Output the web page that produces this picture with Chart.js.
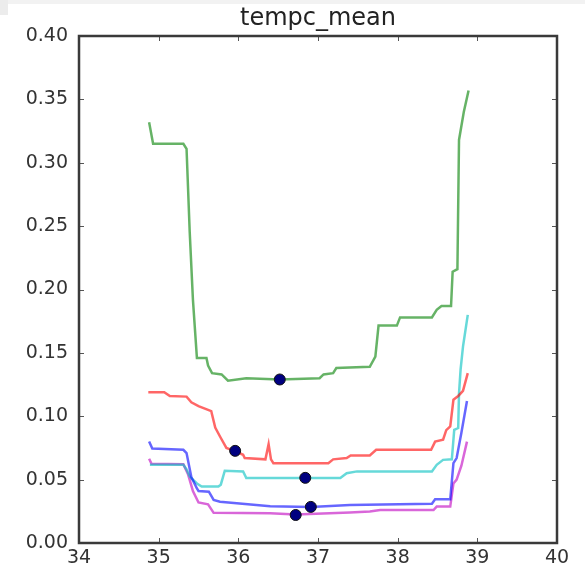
<!DOCTYPE html>
<html>
<head>
<meta charset="utf-8">
<title>tempc_mean</title>
<script src="https://cdn.jsdelivr.net/npm/chart.js@4/dist/chart.umd.min.js"></script>
<style>
  body { margin: 0; background: #fff; }
  #wrap { position: relative; width: 585px; height: 573px; }
  #strip { position: absolute; left: 0; top: 0; width: 585px; height: 4px; background: #f2f2f2; }
  #corner { position: absolute; left: 0; top: 0; width: 8px; height: 15px; background: #ececec; }
  canvas { position: absolute; left: 0; top: 0; }
</style>
</head>
<body>
<div id="wrap">
  <div id="strip"></div>
  <div id="corner"></div>
  <canvas id="chart" width="585" height="573"></canvas>
</div>
<script>
const title = 'tempc_mean';
const xTicks = [34, 35, 36, 37, 38, 39, 40];
const yTicks = [0, 0.05, 0.10, 0.15, 0.20, 0.25, 0.30, 0.35, 0.40];

// blue
const blueX = [34.88, 34.92, 35.31, 35.35, 35.41, 35.48, 35.50, 35.63, 35.69, 35.77, 36.40, 36.91, 37.40, 38.43, 38.47, 38.66, 38.70, 38.74, 38.80, 38.87];
const blueY = [0.080, 0.0745, 0.0735, 0.071, 0.052, 0.043, 0.041, 0.0405, 0.034, 0.0326, 0.029, 0.0285, 0.030, 0.031, 0.0345, 0.0345, 0.063, 0.067, 0.087, 0.112];

// green
const greenX = [34.88, 34.93, 35.31, 35.35, 35.39, 35.43, 35.48, 35.60, 35.62, 35.67, 35.79, 35.87, 36.10, 36.52, 37.02, 37.07, 37.19, 37.23, 37.65, 37.72, 37.76, 37.99, 38.03, 38.43, 38.49, 38.55, 38.67, 38.69, 38.75, 38.77, 38.83, 38.89];
const greenY = [0.332, 0.315, 0.315, 0.311, 0.245, 0.192, 0.146, 0.146, 0.140, 0.134, 0.133, 0.128, 0.130, 0.129, 0.130, 0.133, 0.134, 0.138, 0.139, 0.147, 0.1715, 0.1715, 0.178, 0.178, 0.184, 0.187, 0.187, 0.214, 0.216, 0.318, 0.340, 0.357];

// red
const redX = [34.87, 35.07, 35.14, 35.35, 35.41, 35.50, 35.62, 35.66, 35.71, 35.77, 35.85, 35.96, 36.06, 36.08, 36.34, 36.38, 36.41, 36.44, 37.13, 37.19, 37.36, 37.41, 37.65, 37.73, 38.42, 38.47, 38.57, 38.61, 38.66, 38.70, 38.76, 38.82, 38.88];
const redY = [0.119, 0.119, 0.116, 0.1155, 0.111, 0.108, 0.105, 0.104, 0.091, 0.084, 0.075, 0.0725, 0.0696, 0.067, 0.066, 0.078, 0.066, 0.063, 0.063, 0.066, 0.067, 0.069, 0.069, 0.0735, 0.0735, 0.080, 0.0815, 0.089, 0.092, 0.113, 0.116, 0.120, 0.134];

// cyan
const cyanX = [34.89, 35.31, 35.35, 35.39, 35.48, 35.54, 35.75, 35.78, 35.83, 36.06, 36.10, 37.28, 37.36, 37.49, 38.43, 38.49, 38.57, 38.68, 38.71, 38.76, 38.77, 38.79, 38.82, 38.88];
const cyanY = [0.0617, 0.0617, 0.058, 0.0524, 0.047, 0.0445, 0.0445, 0.046, 0.057, 0.0565, 0.0512, 0.0512, 0.055, 0.0565, 0.0565, 0.0617, 0.0656, 0.066, 0.0893, 0.0907, 0.118, 0.137, 0.155, 0.180];

// magenta
const magentaX = [34.88, 34.91, 35.31, 35.37, 35.43, 35.50, 35.62, 35.69, 36.40, 36.72, 37.40, 37.65, 37.78, 38.45, 38.49, 38.66, 38.70, 38.74, 38.80, 38.87];
const magentaY = [0.0665, 0.0625, 0.0622, 0.054, 0.041, 0.032, 0.0305, 0.0238, 0.0235, 0.0225, 0.024, 0.0248, 0.026, 0.026, 0.0287, 0.0287, 0.047, 0.050, 0.061, 0.080];

// marked points, one per curve
const dotX = [36.52, 35.96, 36.84, 36.91, 36.72];
const dotY = [0.129, 0.0727, 0.0514, 0.0285, 0.0221];

function pts(xs, ys) {
  return xs.map((x, i) => ({ x: x, y: ys[i] }));
}

function curve(xs, ys, color) {
  return {
    data: pts(xs, ys),
    borderColor: color,
    borderWidth: 2.5,
    pointRadius: 0,
    tension: 0,
    fill: false
  };
}

// inward ticks on all four sides plus the box frame
const frame = {
  id: 'frame',
  afterDraw(chart) {
    const { ctx, chartArea: a, scales: { x, y } } = chart;
    ctx.save();
    ctx.strokeStyle = '#555';
    ctx.lineWidth = 1;
    ctx.beginPath();
    xTicks.forEach(v => {
      const px = Math.round(x.getPixelForValue(v)) + 0.5;
      ctx.moveTo(px, a.bottom); ctx.lineTo(px, a.bottom - 5);
      ctx.moveTo(px, a.top); ctx.lineTo(px, a.top + 5);
    });
    yTicks.forEach(v => {
      const py = Math.round(y.getPixelForValue(v)) + 0.5;
      ctx.moveTo(a.left, py); ctx.lineTo(a.left + 5, py);
      ctx.moveTo(a.right, py); ctx.lineTo(a.right - 5, py);
    });
    ctx.stroke();
    ctx.strokeStyle = '#3a3a3a';
    ctx.lineWidth = 2.5;
    ctx.strokeRect(a.left, a.top, a.right - a.left, a.bottom - a.top);
    ctx.restore();
  }
};

new Chart(document.getElementById('chart'), {
  type: 'line',
  data: {
    datasets: [
      {
        data: pts(dotX, dotY),
        showLine: false,
        pointRadius: 5.5,
        pointBackgroundColor: '#000080',
        pointBorderColor: '#111',
        pointBorderWidth: 1
      },
      curve(blueX, blueY, 'rgba(0, 0, 255, 0.6)'),
      curve(greenX, greenY, 'rgba(0, 128, 0, 0.6)'),
      curve(redX, redY, 'rgba(255, 0, 0, 0.6)'),
      curve(cyanX, cyanY, 'rgba(0, 191, 191, 0.6)'),
      curve(magentaX, magentaY, 'rgba(191, 0, 191, 0.6)')
    ]
  },
  options: {
    responsive: false,
    animation: false,
    layout: { padding: { left: 0, right: 28, top: 0, bottom: 0 } },
    plugins: {
      legend: { display: false },
      tooltip: { enabled: false },
      title: {
        display: true,
        text: title,
        fullSize: false,
        color: '#222',
        font: { family: 'DejaVu Sans', size: 24, weight: 'normal' },
        padding: { top: 4, bottom: 3.2 }
      }
    },
    scales: {
      x: {
        type: 'linear',
        min: 34,
        max: 40,
        afterBuildTicks: s => { s.ticks = xTicks.map(v => ({ value: v })); },
        afterFit: s => { s.height = 30; },
        grid: { display: false, drawTicks: false },
        border: { display: false },
        ticks: {
          padding: 4,
          color: '#333',
          font: { family: 'DejaVu Sans', size: 19 },
          callback: v => String(v)
        }
      },
      y: {
        type: 'linear',
        min: 0,
        max: 0.4,
        afterBuildTicks: s => { s.ticks = yTicks.map(v => ({ value: v })); },
        afterFit: s => { s.width = 79; },
        grid: { display: false, drawTicks: false },
        border: { display: false },
        ticks: {
          padding: 11,
          color: '#333',
          font: { family: 'DejaVu Sans', size: 19 },
          callback: v => v.toFixed(2)
        }
      }
    }
  },
  plugins: [frame]
});
</script>
</body>
</html>
